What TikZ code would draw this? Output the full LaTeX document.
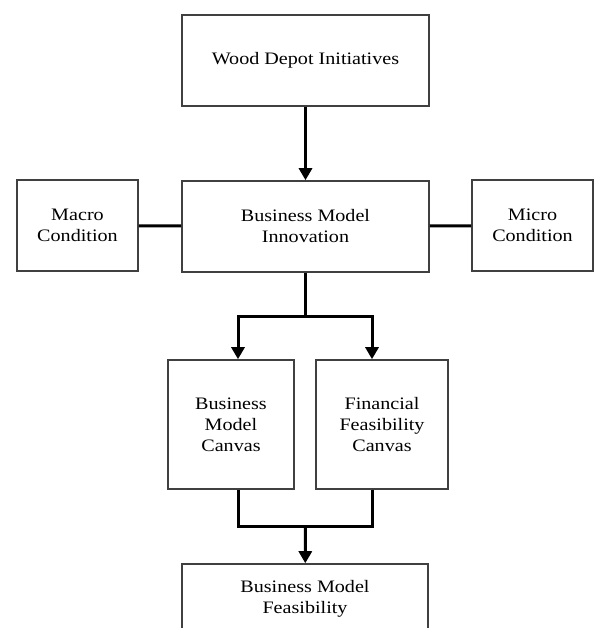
\documentclass[tikz,border=0pt]{standalone}
\usepackage{fontspec}
\setmainfont{Liberation Serif}[FakeStretch=1.15]
\usetikzlibrary{arrows.meta}
\begin{document}
\begin{tikzpicture}[x=1pt,y=-1pt,
  box/.style={draw=black!75,line width=1.6pt,fill=white,align=center,inner sep=0pt,
    font=\fontsize{17.5}{21}\selectfont},
  conn/.style={line width=3pt,black},
  arr/.style={conn,-{Triangle[length=12pt,width=13pt]}}]
\useasboundingbox (0,0) rectangle (594,628);
\clip (0,0) rectangle (594,628);
\node[box,minimum width=247pt,minimum height=91pt] (top) at (305.5,60.5) {Wood Depot Initiatives};
\node[box,minimum width=247pt,minimum height=91pt] (mid) at (305.5,226.5) {Business Model\\Innovation};
\node[box,minimum width=121pt,minimum height=91pt] (macro) at (77.5,225.5) {Macro\\Condition};
\node[box,minimum width=121pt,minimum height=91pt] (micro) at (532.5,225.5) {Micro\\Condition};
\node[box,minimum width=126pt,minimum height=129pt] (lc) at (231,424.5) {Business\\Model\\Canvas};
\node[box,minimum width=132pt,minimum height=129pt] (rc) at (382,424.5) {Financial\\Feasibility\\Canvas};
\node[box,minimum width=246pt,minimum height=70pt] (bot) at (305,599) {Business Model\\Feasibility};
\coordinate (j1) at (305.5,316);
\coordinate (j2) at (305.5,526);
\draw[arr] (top) -- (mid);
\draw[conn] (macro) -- (mid);
\draw[conn] (micro) -- (mid);
\draw[conn] (mid.south) -- (j1);
\draw[arr] (j1) -| ([xshift=7pt]lc.north);
\draw[arr] (j1) -| ([xshift=-10pt]rc.north);
\draw[conn] ([xshift=7pt]lc.south) |- (j2);
\draw[conn] ([xshift=-10pt]rc.south) |- (j2);
\draw[arr] (j2) -- (bot);
\end{tikzpicture}
\end{document}
